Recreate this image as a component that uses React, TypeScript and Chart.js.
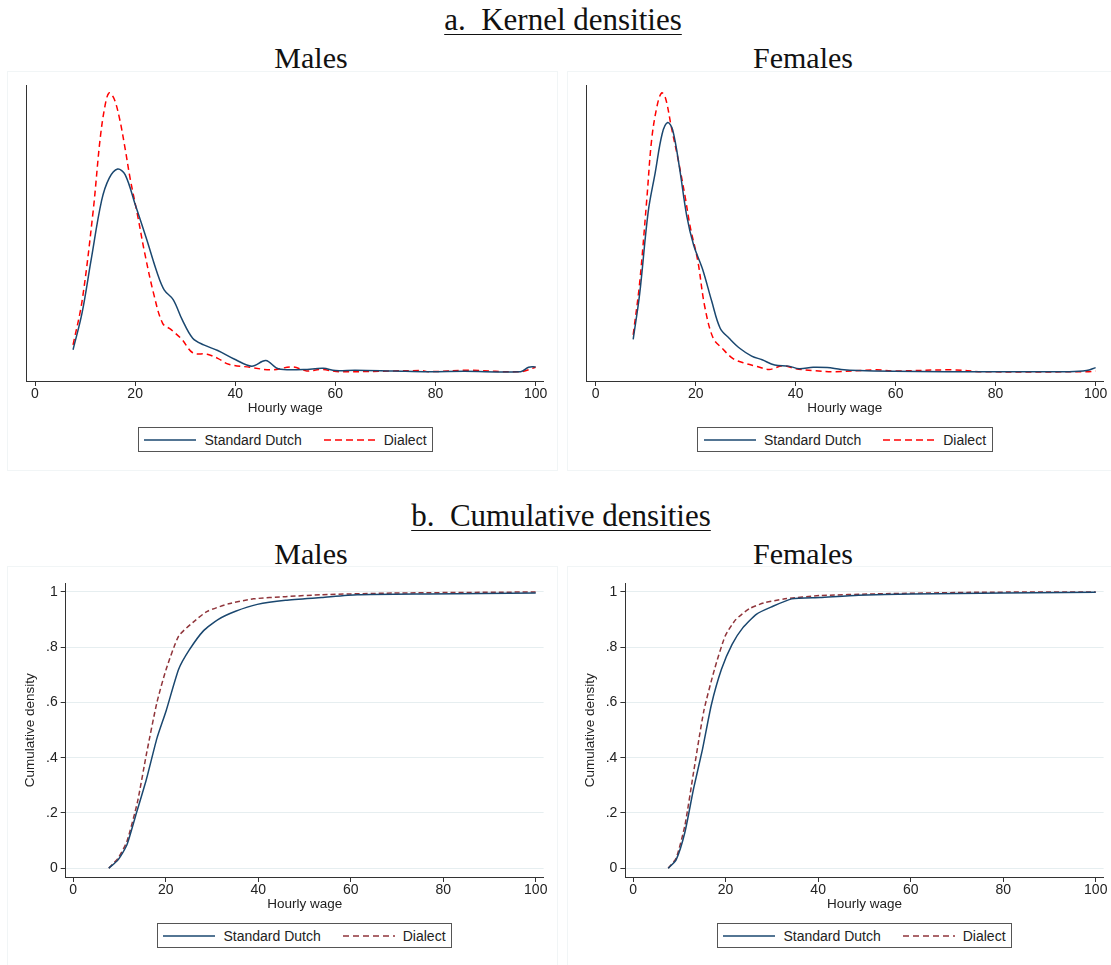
import { useEffect, useRef } from "react";
import { Chart, registerables } from "chart.js";

Chart.register(...registerables);

// wage grid points and values
const maleKdeStdX = [7.6, 9.4, 11.2, 13.3, 14.8, 16.5, 18, 20.1, 22.3, 24.4, 25.8, 27.6, 29.4, 31.5, 33.7, 36.5, 40.1, 43.3, 46.1, 48.6, 53.6, 57.6, 60, 64, 71.5, 78.6, 85.7, 97, 98.6, 100];
const maleKdeStdY = [0.0059, 0.0158, 0.03, 0.046, 0.052, 0.0545, 0.053, 0.0446, 0.0356, 0.0266, 0.022, 0.0194, 0.014, 0.009, 0.0072, 0.0057, 0.0032, 0.0015, 0.003, 0.0008, 0.0006, 0.0009, 0.0003, 0.0004, 0.0002, 0, 0.0001, 0, 0.0012, 0.0013];
const maleKdeDiaX = [7.6, 9.4, 11.6, 13, 14, 14.8, 15.8, 16.9, 18, 19, 20.5, 21.9, 23.7, 25.5, 27.2, 29.4, 31.5, 34.4, 36.5, 38.7, 42.9, 47.2, 51.5, 54.3, 57.2, 60.8, 77.2, 78.6, 86.4, 97, 100];
const maleKdeDiaY = [0.0072, 0.019, 0.043, 0.0625, 0.0716, 0.075, 0.0734, 0.068, 0.06, 0.052, 0.042, 0.032, 0.021, 0.013, 0.0113, 0.0086, 0.0051, 0.0047, 0.0036, 0.002, 0.0012, 0.0005, 0.0013, 0.0002, 0.0006, 0, 0.0003, 0, 0.0004, 0, 0.0012];

const femKdeStdX = [7.5, 8.8, 10.5, 11.9, 13.3, 14.4, 15.4, 16.8, 18.2, 19.6, 21.4, 23.2, 24.9, 26.7, 28.8, 31.2, 33.3, 35.8, 38.6, 40.7, 43.5, 46.3, 49.1, 52.6, 59.6, 70.2, 94.7, 98.2, 100];
const femKdeStdY = [0.0087, 0.021, 0.043, 0.0535, 0.064, 0.067, 0.065, 0.0545, 0.042, 0.034, 0.0275, 0.019, 0.0117, 0.009, 0.0063, 0.0042, 0.0032, 0.0018, 0.0015, 0.0008, 0.0012, 0.0011, 0.0006, 0.0003, 0.0001, 0, 0, 0.0003, 0.0011];
const femKdeDiaX = [7.5, 8.8, 10.2, 11.2, 12.3, 13.2, 14, 15.1, 16.5, 17.9, 18.9, 20.4, 21.8, 23.5, 25.3, 27.4, 29.5, 32.3, 34.7, 37.5, 40, 43.5, 47.7, 56.1, 59.6, 71.6, 77.2, 98.2, 100];
const femKdeDiaY = [0.0099, 0.024, 0.046, 0.0625, 0.0716, 0.075, 0.0734, 0.066, 0.057, 0.047, 0.039, 0.03, 0.0176, 0.009, 0.0063, 0.0036, 0.0024, 0.0014, 0.0006, 0.0016, 0.0008, 0.0003, 0, 0.0005, 0.0002, 0.0005, 0, 0, 0.0002];

const maleCdfStdX = [7.7, 9.7, 11.6, 13.5, 15.8, 18.1, 20.1, 22.8, 25.1, 28.2, 31.3, 35.1, 39.8, 45.9, 53.7, 61.4, 76.8, 100];
const maleCdfStdY = [0, 0.03, 0.084, 0.19, 0.32, 0.47, 0.57, 0.72, 0.79, 0.86, 0.9, 0.93, 0.955, 0.97, 0.98, 0.99, 0.993, 0.996];
const maleCdfDiaX = [7.7, 9.7, 11.6, 13.9, 15.8, 18.1, 20.1, 22.8, 25.9, 29, 33.6, 39, 45.9, 53.7, 69.1, 100];
const maleCdfDiaY = [0, 0.036, 0.096, 0.24, 0.41, 0.6, 0.72, 0.84, 0.89, 0.93, 0.957, 0.975, 0.983, 0.99, 0.996, 1.0];

const femCdfStdX = [7.6, 9.3, 11.2, 13.1, 15, 16.9, 19.1, 21.4, 23.7, 26.7, 29.8, 34.3, 40.4, 48.7, 60.1, 100];
const femCdfStdY = [0, 0.03, 0.13, 0.29, 0.43, 0.59, 0.72, 0.81, 0.87, 0.92, 0.945, 0.975, 0.98, 0.988, 0.993, 0.999];
const femCdfDiaX = [7.6, 9.3, 11.2, 13.1, 15.3, 17.6, 19.9, 22.2, 25.2, 28.2, 32.8, 40.4, 52.5, 75.3, 100];
const femCdfDiaY = [0, 0.036, 0.155, 0.35, 0.57, 0.72, 0.84, 0.9, 0.94, 0.96, 0.975, 0.987, 0.993, 0.999, 1.0];

const xTicks = [0, 20, 40, 60, 80, 100];
const cdfTicks = [0, 0.2, 0.4, 0.6, 0.8, 1];
const seriesNames = ["Standard Dutch", "Dialect"];

const NAVY = "#1a476f";
const RED = "#ff0000";
const MAROON = "#90353b";
const SANS = "Arial, 'Liberation Sans', sans-serif";
const SERIF = "'Liberation Serif', 'DejaVu Serif', serif";

const pts = (xs: number[], ys: number[]) => xs.map((x, i) => ({ x, y: ys[i] }));

type PanelProps = {
  left: number;
  top: number;
  width: number;
  height: number;
  yWidth: number;
  padTop: number;
  padRight: number;
  xMin: number;
  xMax: number;
  yMin: number;
  yMax: number;
  cdf: boolean;
  std: { x: number; y: number }[];
  dia: { x: number; y: number }[];
};

function Panel(p: PanelProps) {
  const canvasRef = useRef<HTMLCanvasElement | null>(null);

  useEffect(() => {
    if (!canvasRef.current) return;
    const chart = new Chart(canvasRef.current, {
      type: "line",
      data: {
        datasets: [
          {
            label: seriesNames[0],
            data: p.std,
            borderColor: NAVY,
            borderWidth: 1.5,
            pointRadius: 0,
            tension: p.cdf ? 0.2 : 0.35,
          },
          {
            label: seriesNames[1],
            data: p.dia,
            borderColor: p.cdf ? MAROON : RED,
            borderWidth: 1.5,
            borderDash: p.cdf ? [5, 3] : [6, 4],
            pointRadius: 0,
            tension: p.cdf ? 0.2 : 0.35,
          },
        ],
      },
      options: {
        responsive: false,
        animation: false,
        layout: { padding: { top: p.padTop, right: p.padRight, left: 0, bottom: 0 } },
        plugins: { legend: { display: false }, tooltip: { enabled: false } },
        scales: {
          x: {
            type: "linear",
            min: p.xMin,
            max: p.xMax,
            afterBuildTicks: (s) => {
              s.ticks = xTicks.map((v) => ({ value: v }));
            },
            afterFit: (s) => {
              s.height = 35;
            },
            grid: { drawOnChartArea: false, drawTicks: true, tickLength: 5, color: "#333" },
            border: { display: true, color: "#333", width: 1 },
            ticks: { color: "#222", font: { family: SANS, size: 14 }, padding: 0, maxRotation: 0 },
            title: { display: true, text: "Hourly wage", color: "#222", font: { family: SANS, size: 13.5 }, padding: 0 },
          },
          y: {
            type: "linear",
            min: p.yMin,
            max: p.yMax,
            afterBuildTicks: (s) => {
              s.ticks = p.cdf ? cdfTicks.map((v) => ({ value: v })) : [];
            },
            afterFit: (s) => {
              s.width = p.yWidth;
            },
            grid: {
              display: p.cdf,
              color: "#e6eef0",
              drawTicks: true,
              tickLength: 5,
              tickColor: "#333",
            },
            border: { display: true, color: "#333", width: 1 },
            ticks: {
              display: p.cdf,
              color: "#222",
              font: { family: SANS, size: 14 },
              padding: 3,
              callback: (v) => {
                const n = Number(v);
                if (n === 0 || n === 1) return String(n);
                return String(n.toFixed(1)).replace(/^0/, "");
              },
            },
            title: {
              display: p.cdf,
              text: "Cumulative density",
              color: "#222",
              font: { family: SANS, size: 13.5 },
              padding: { top: 14, bottom: 0 },
            },
          },
        },
      },
    });
    return () => chart.destroy();
  }, []);

  return (
    <canvas
      ref={canvasRef}
      width={p.width}
      height={p.height}
      style={{ position: "absolute", left: p.left, top: p.top, width: p.width, height: p.height }}
    />
  );
}

function Legend({ left, top, width, cdf }: { left: number; top: number; width: number; cdf: boolean }) {
  const sample = (color: string, dash: string) => (
    <svg width={52} height={4} style={{ marginRight: 8 }}>
      <line x1={0} y1={2} x2={52} y2={2} stroke={color} strokeWidth={1.6} strokeDasharray={dash} />
    </svg>
  );
  return (
    <div
      style={{
        position: "absolute",
        left,
        top,
        width,
        height: 25,
        border: "1px solid #555",
        boxSizing: "border-box",
        display: "flex",
        alignItems: "center",
        justifyContent: "center",
        fontFamily: SANS,
        fontSize: 14,
        color: "#222",
        background: "#fff",
      }}
    >
      {sample(NAVY, "none")}
      <span style={{ marginRight: 22 }}>{seriesNames[0]}</span>
      {sample(cdf ? MAROON : RED, cdf ? "6 4" : "7 4")}
      <span>{seriesNames[1]}</span>
    </div>
  );
}

const Text = ({ x, y, size, children, underline }: any) => (
  <div
    style={{
      position: "absolute",
      left: x - 300,
      top: y,
      width: 600,
      textAlign: "center",
      fontFamily: SERIF,
      fontSize: size,
      lineHeight: 1,
      color: "#111",
      textDecoration: underline ? "underline" : "none",
      textDecorationThickness: 1,
      textUnderlineOffset: 4,
    }}
  >
    {children}
  </div>
);

const Frame = ({ l, t, w, h }: any) => (
  <div style={{ position: "absolute", left: l, top: t, width: w, height: h, border: "1px solid #f1f5f6", boxSizing: "border-box" }} />
);

export default function App() {
  const kdeY = { yMin: -0.0025, yMax: 0.0771 };
  const cdfY = { yMin: -0.032, yMax: 1.031 };
  return (
    <div style={{ position: "absolute", left: 0, top: 0, width: 1111, height: 965, background: "#fff", overflow: "hidden" }}>
      <Frame l={7} t={71} w={551} h={400} />
      <Frame l={567} t={71} w={550} h={400} />
      <Frame l={7} t={566} w={551} h={400} />
      <Frame l={567} t={566} w={550} h={400} />

      <Text x={563} y={4} size={31} underline>a.&nbsp; Kernel densities</Text>
      <Text x={311} y={43} size={30}>Males</Text>
      <Text x={803} y={43} size={30}>Females</Text>
      <Text x={561} y={500} size={31} underline>b.&nbsp; Cumulative densities</Text>
      <Text x={311} y={539} size={30}>Males</Text>
      <Text x={803} y={539} size={30}>Females</Text>

      <Panel left={8} top={78} width={548} height={338} yWidth={18.8} padTop={7} padRight={12.4} xMin={-1.64} xMax={101.6} {...kdeY} cdf={false} std={pts(maleKdeStdX, maleKdeStdY)} dia={pts(maleKdeDiaX, maleKdeDiaY)} />
      <Panel left={568} top={78} width={543} height={338} yWidth={18} padTop={7} padRight={7.4} xMin={-1.94} xMax={101.6} {...kdeY} cdf={false} std={pts(femKdeStdX, femKdeStdY)} dia={pts(femKdeDiaX, femKdeDiaY)} />
      <Panel left={8} top={572} width={548} height={340} yWidth={57.7} padTop={9} padRight={12.4} xMin={-1.62} xMax={101.7} {...cdfY} cdf={true} std={pts(maleCdfStdX, maleCdfStdY)} dia={pts(maleCdfDiaX, maleCdfDiaY)} />
      <Panel left={568} top={572} width={543} height={340} yWidth={57.4} padTop={9} padRight={7.4} xMin={-1.66} xMax={101.7} {...cdfY} cdf={true} std={pts(femCdfStdX, femCdfStdY)} dia={pts(femCdfDiaX, femCdfDiaY)} />

      <Legend left={138} top={427} width={295} cdf={false} />
      <Legend left={697} top={427} width={296} cdf={false} />
      <Legend left={157} top={923} width={295} cdf={true} />
      <Legend left={717} top={923} width={295} cdf={true} />
    </div>
  );
}
